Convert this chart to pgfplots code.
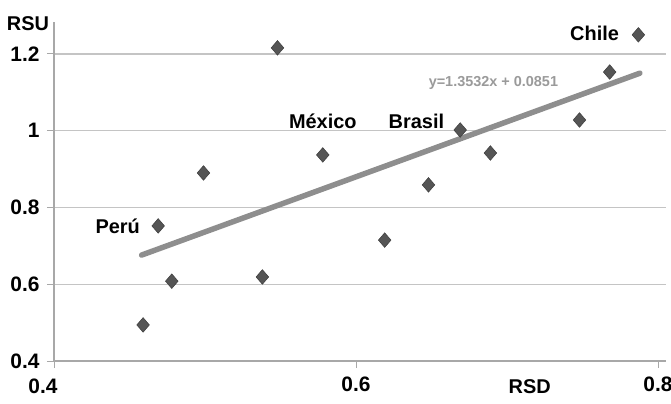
\documentclass[border=0pt]{standalone}
\usepackage{fontspec}
\setmainfont{Liberation Sans}
\usepackage{pgfplots}
\pgfplotsset{compat=1.18}
\definecolor{gridgray}{HTML}{C4C4C4}
\definecolor{axisgray}{HTML}{A8A8A8}
\definecolor{trendgray}{HTML}{8E8E8E}
\definecolor{markgray}{HTML}{555555}
\definecolor{eqgray}{HTML}{9A9A9A}
\newcommand{\lbl}{\fontsize{20}{24}\selectfont\bfseries}
\newcommand{\tkl}{\fontsize{21}{24}\selectfont\bfseries}
\begin{document}
\begin{tikzpicture}
\path[use as bounding box] (-54bp,-43bp) rectangle (617bp,361bp);
\begin{axis}[
  scale only axis, width=611.55bp, height=338.85bp,
  xmin=0.4, xmax=0.805, ymin=0.4, ymax=1.283,
  axis lines*=left,
  axis line style={axisgray, line width=1.2bp},
  xtick={0.4,0.6,0.8}, xticklabels={{},{0.6},{0.8}},
  ytick={0.4,0.6,0.8,1,1.2},
  ymajorgrids, grid style={gridgray, line width=1.2bp},
  tick align=outside, major tick length=7bp,
  tick style={axisgray, line width=1bp},
  tick label style={font=\tkl},
  xticklabel style={yshift=-5bp},
  yticklabel style={xshift=-4bp},
  /pgf/number format/assume math mode=true,
  clip=false,
]
% linear trend through the cloud of countries
\addplot[no marks, line width=5.5bp, trendgray, line cap=round]
  coordinates {(0.458,0.676) (0.788,1.150)};
% RSD vs RSU by country
\addplot[only marks, mark=diamond*, mark size=7.3bp,
  mark options={xscale=1.15, fill=markgray, draw=markgray!70!black, line width=0.5bp}]
  table {
x     y
0.469 0.752
0.478 0.608
0.459 0.494
0.499 0.890
0.538 0.619
0.548 1.216
0.578 0.937
0.619 0.715
0.648 0.859
0.669 1.002
0.689 0.942
0.748 1.028
0.768 1.153
0.787 1.250
};
\node[anchor=base, inner sep=0, font=\tkl] at (axis cs:0.3927,0.3166) {0.4};
\node[anchor=base east, inner sep=0, font=\lbl] at (axis cs:0.457,0.731) {Perú};
\node[anchor=base, inner sep=0, font=\lbl] at (axis cs:0.578,1.007) {México};
\node[anchor=base, inner sep=0, font=\lbl] at (axis cs:0.640,1.007) {Brasil};
\node[anchor=base, inner sep=0, font=\lbl] at (axis cs:0.758,1.235) {Chile};
\node[anchor=base, inner sep=0, text=eqgray, font=\fontsize{14.5}{16}\selectfont\bfseries]
  at (axis cs:0.691,1.115) {y=1.3532x + 0.0851};
\node[anchor=base, inner sep=0, font=\lbl] at (axis cs:0.3828,1.2625) {RSU};
\node[anchor=base, inner sep=0, font=\lbl] at (axis cs:0.715,0.3166) {RSD};
\end{axis}
\end{tikzpicture}
\end{document}
